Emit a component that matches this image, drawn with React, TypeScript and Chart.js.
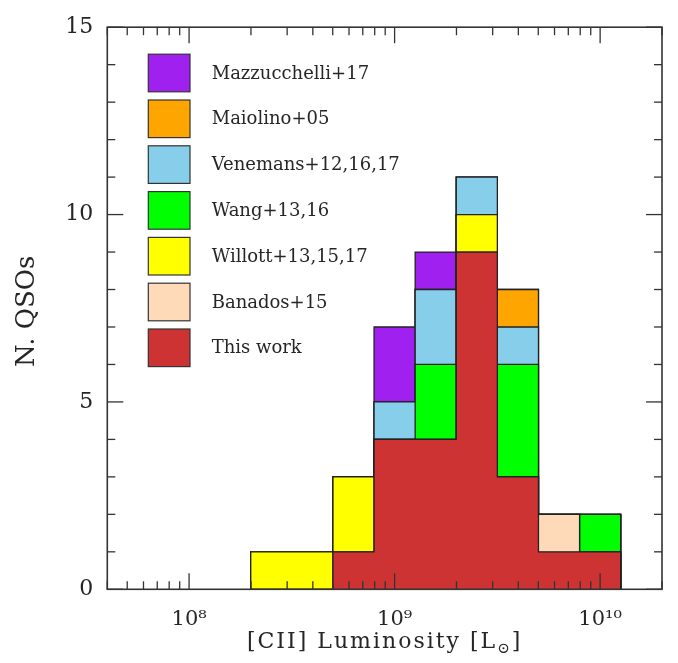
import { useEffect, useRef } from 'react';
import { Chart, registerables } from 'chart.js';

Chart.register(...registerables);

// Histogram bin edges, log10(L_[CII] / L_sun)
const binEdgesLog = [8.3, 8.5, 8.7, 8.9, 9.1, 9.3, 9.5, 9.7, 9.9, 10.1];

// Counts per bin for every sample (stacked bottom to top in this order)
const thisWork = [0, 0, 1, 4, 4, 9, 3, 1, 1];
const banados15 = [0, 0, 0, 0, 0, 0, 0, 1, 0];
const willott = [1, 1, 2, 0, 0, 1, 0, 0, 0];
const wang = [0, 0, 0, 0, 2, 0, 3, 0, 1];
const venemans = [0, 0, 0, 1, 2, 1, 1, 0, 0];
const maiolino05 = [0, 0, 0, 0, 0, 0, 1, 0, 0];
const mazzucchelli17 = [0, 0, 0, 2, 1, 0, 0, 0, 0];

const seriesLabels = [
  'This work',
  'Banados+15',
  'Willott+13,15,17',
  'Wang+13,16',
  'Venemans+12,16,17',
  'Maiolino+05',
  'Mazzucchelli+17',
];
const seriesColors = ['#CD3333', '#FFDAB9', '#FFFF00', '#00FF00', '#87CEEB', '#FFA500', '#A020F0'];

const xMin = 4e7;
const xMax = 2e10;
const xTickValues = [1e8, 1e9, 1e10];
const xTickLabels = ['10⁸', '10⁹', '10¹⁰'];
const yMin = 0;
const yMax = 15;
const yMajorStep = 5;
const yMinorStep = 1;

const yTitle = 'N. QSOs';
const xTitleMain = '[CII] Luminosity [L';
const xTitleSub = '⊙';
const xTitleEnd = ']';

const INK = '#262626';
const SERIF = '"DejaVu Serif", serif';

function buildDatasets() {
  const counts = [thisWork, banados15, willott, wang, venemans, maiolino05, mazzucchelli17];
  const nBins = binEdgesLog.length - 1;
  let cum = new Array(nBins).fill(0);
  return counts.map((c, i) => {
    cum = cum.map((v, j) => v + c[j]);
    const pts: { x: number; y: number }[] = [{ x: Math.pow(10, binEdgesLog[0]), y: 0 }];
    cum.forEach((v, j) => pts.push({ x: Math.pow(10, binEdgesLog[j]), y: v }));
    pts.push({ x: Math.pow(10, binEdgesLog[nBins]), y: 0 });
    return {
      label: seriesLabels[i],
      data: pts,
      stepped: 'before' as const,
      fill: 'origin',
      backgroundColor: seriesColors[i],
      borderColor: '#222',
      borderWidth: 1.3,
      borderJoinStyle: 'miter' as const,
      pointRadius: 0,
      pointHoverRadius: 0,
      tension: 0,
    };
  });
}

const decorPlugin = {
  id: 'decor',
  afterDraw(chart: any) {
    const { ctx, chartArea: a, scales } = chart;
    const xs = scales.x;
    const ys = scales.y;
    const seg = (x1: number, y1: number, x2: number, y2: number) => {
      ctx.beginPath();
      ctx.moveTo(x1, y1);
      ctx.lineTo(x2, y2);
      ctx.stroke();
    };
    ctx.save();
    ctx.strokeStyle = '#333';
    ctx.lineWidth = 1.3;
    // y ticks (inward, left and right)
    for (let v = yMin; v <= yMax; v += yMinorStep) {
      const y = ys.getPixelForValue(v);
      const len = v % yMajorStep === 0 ? 16 : 8;
      seg(a.left, y, a.left + len, y);
      seg(a.right - len, y, a.right, y);
    }
    // x ticks (inward, bottom and top)
    const e0 = Math.floor(Math.log10(xs.min));
    const e1 = Math.ceil(Math.log10(xs.max));
    for (let e = e0; e <= e1; e++) {
      for (let k = 1; k <= 9; k++) {
        const v = k * Math.pow(10, e);
        if (v < xs.min * 0.999 || v > xs.max * 1.001) continue;
        const x = xs.getPixelForValue(v);
        const len = k === 1 ? 16 : 8;
        seg(x, a.bottom, x, a.bottom - len);
        seg(x, a.top, x, a.top + len);
      }
    }
    // frame
    ctx.lineWidth = 1.6;
    ctx.strokeRect(a.left, a.top, a.right - a.left, a.bottom - a.top);

    // legend (top to bottom = reverse stacking order)
    const n = seriesLabels.length;
    ctx.font = `18px ${SERIF}`;
    ctx.textBaseline = 'middle';
    ctx.textAlign = 'left';
    for (let r = 0; r < n; r++) {
      const i = n - 1 - r;
      const bx = a.left + 41;
      const by = a.top + 27 + r * 45.8;
      const bw = 41.7;
      const bh = 37.6;
      ctx.fillStyle = seriesColors[i];
      ctx.fillRect(bx, by, bw, bh);
      ctx.lineWidth = 1.2;
      ctx.strokeStyle = '#333';
      ctx.strokeRect(bx, by, bw, bh);
      ctx.fillStyle = INK;
      ctx.fillText(seriesLabels[i], a.left + 104.4, by + bh / 2 + 1);
    }

    // y title
    ctx.save();
    ctx.translate(27, (a.top + a.bottom) / 2 + 3);
    ctx.rotate(-Math.PI / 2);
    ctx.font = `26px ${SERIF}`;
    ctx.textAlign = 'center';
    ctx.textBaseline = 'middle';
    ctx.fillStyle = INK;
    ctx.fillText(yTitle, 0, 0);
    ctx.restore();

    // x title with subscript
    const mainFont = `22px ${SERIF}`;
    const subFont = `15px ${SERIF}`;
    (ctx as any).letterSpacing = '2px';
    ctx.textBaseline = 'alphabetic';
    ctx.textAlign = 'left';
    ctx.font = mainFont;
    const w1 = ctx.measureText(xTitleMain).width;
    const w3 = ctx.measureText(xTitleEnd).width;
    ctx.font = subFont;
    const w2 = ctx.measureText(xTitleSub).width;
    const total = w1 + w2 + w3;
    let tx = (a.left + a.right) / 2 - total / 2;
    const ty = 648;
    ctx.fillStyle = INK;
    ctx.font = mainFont;
    ctx.fillText(xTitleMain, tx, ty);
    tx += w1;
    ctx.font = subFont;
    ctx.fillText(xTitleSub, tx, ty + 5);
    tx += w2;
    ctx.font = mainFont;
    ctx.fillText(xTitleEnd, tx, ty);
    (ctx as any).letterSpacing = '0px';
    ctx.restore();
  },
};

export default function App() {
  const ref = useRef<HTMLCanvasElement>(null);
  useEffect(() => {
    const canvas = ref.current;
    if (!canvas) return;
    const chart = new Chart(canvas, {
      type: 'line',
      data: { datasets: buildDatasets() as any },
      options: {
        animation: false,
        responsive: false,
        events: [],
        layout: { padding: { top: 15, right: 16, left: 0, bottom: 0 } },
        plugins: {
          legend: { display: false },
          tooltip: { enabled: false },
        },
        scales: {
          x: {
            type: 'logarithmic',
            min: xMin,
            max: xMax,
            grid: { display: false, drawTicks: false },
            border: { display: false },
            ticks: {
              autoSkip: false,
              maxRotation: 0,
              padding: 18,
              color: INK,
              font: { family: SERIF, size: 21 },
              callback: (_v: any, i: number) => xTickLabels[i],
            },
            afterBuildTicks: (s: any) => {
              s.ticks = xTickValues.map((v) => ({ value: v }));
            },
            afterFit: (s: any) => {
              s.height = 73.7;
            },
          },
          y: {
            type: 'linear',
            min: yMin,
            max: yMax,
            grid: { display: false, drawTicks: false },
            border: { display: false },
            ticks: {
              stepSize: yMajorStep,
              padding: 14,
              color: INK,
              font: { family: SERIF, size: 22 },
            },
            afterFit: (s: any) => {
              s.width = 107.3;
            },
          },
        },
      },
      plugins: [decorPlugin],
    });
    return () => chart.destroy();
  }, []);
  return (
    <div style={{ position: 'fixed', left: 0, top: 0, width: 678, height: 663, background: '#fff' }}>
      <canvas ref={ref} width={678} height={663} style={{ width: 678, height: 663, display: 'block' }} />
    </div>
  );
}
